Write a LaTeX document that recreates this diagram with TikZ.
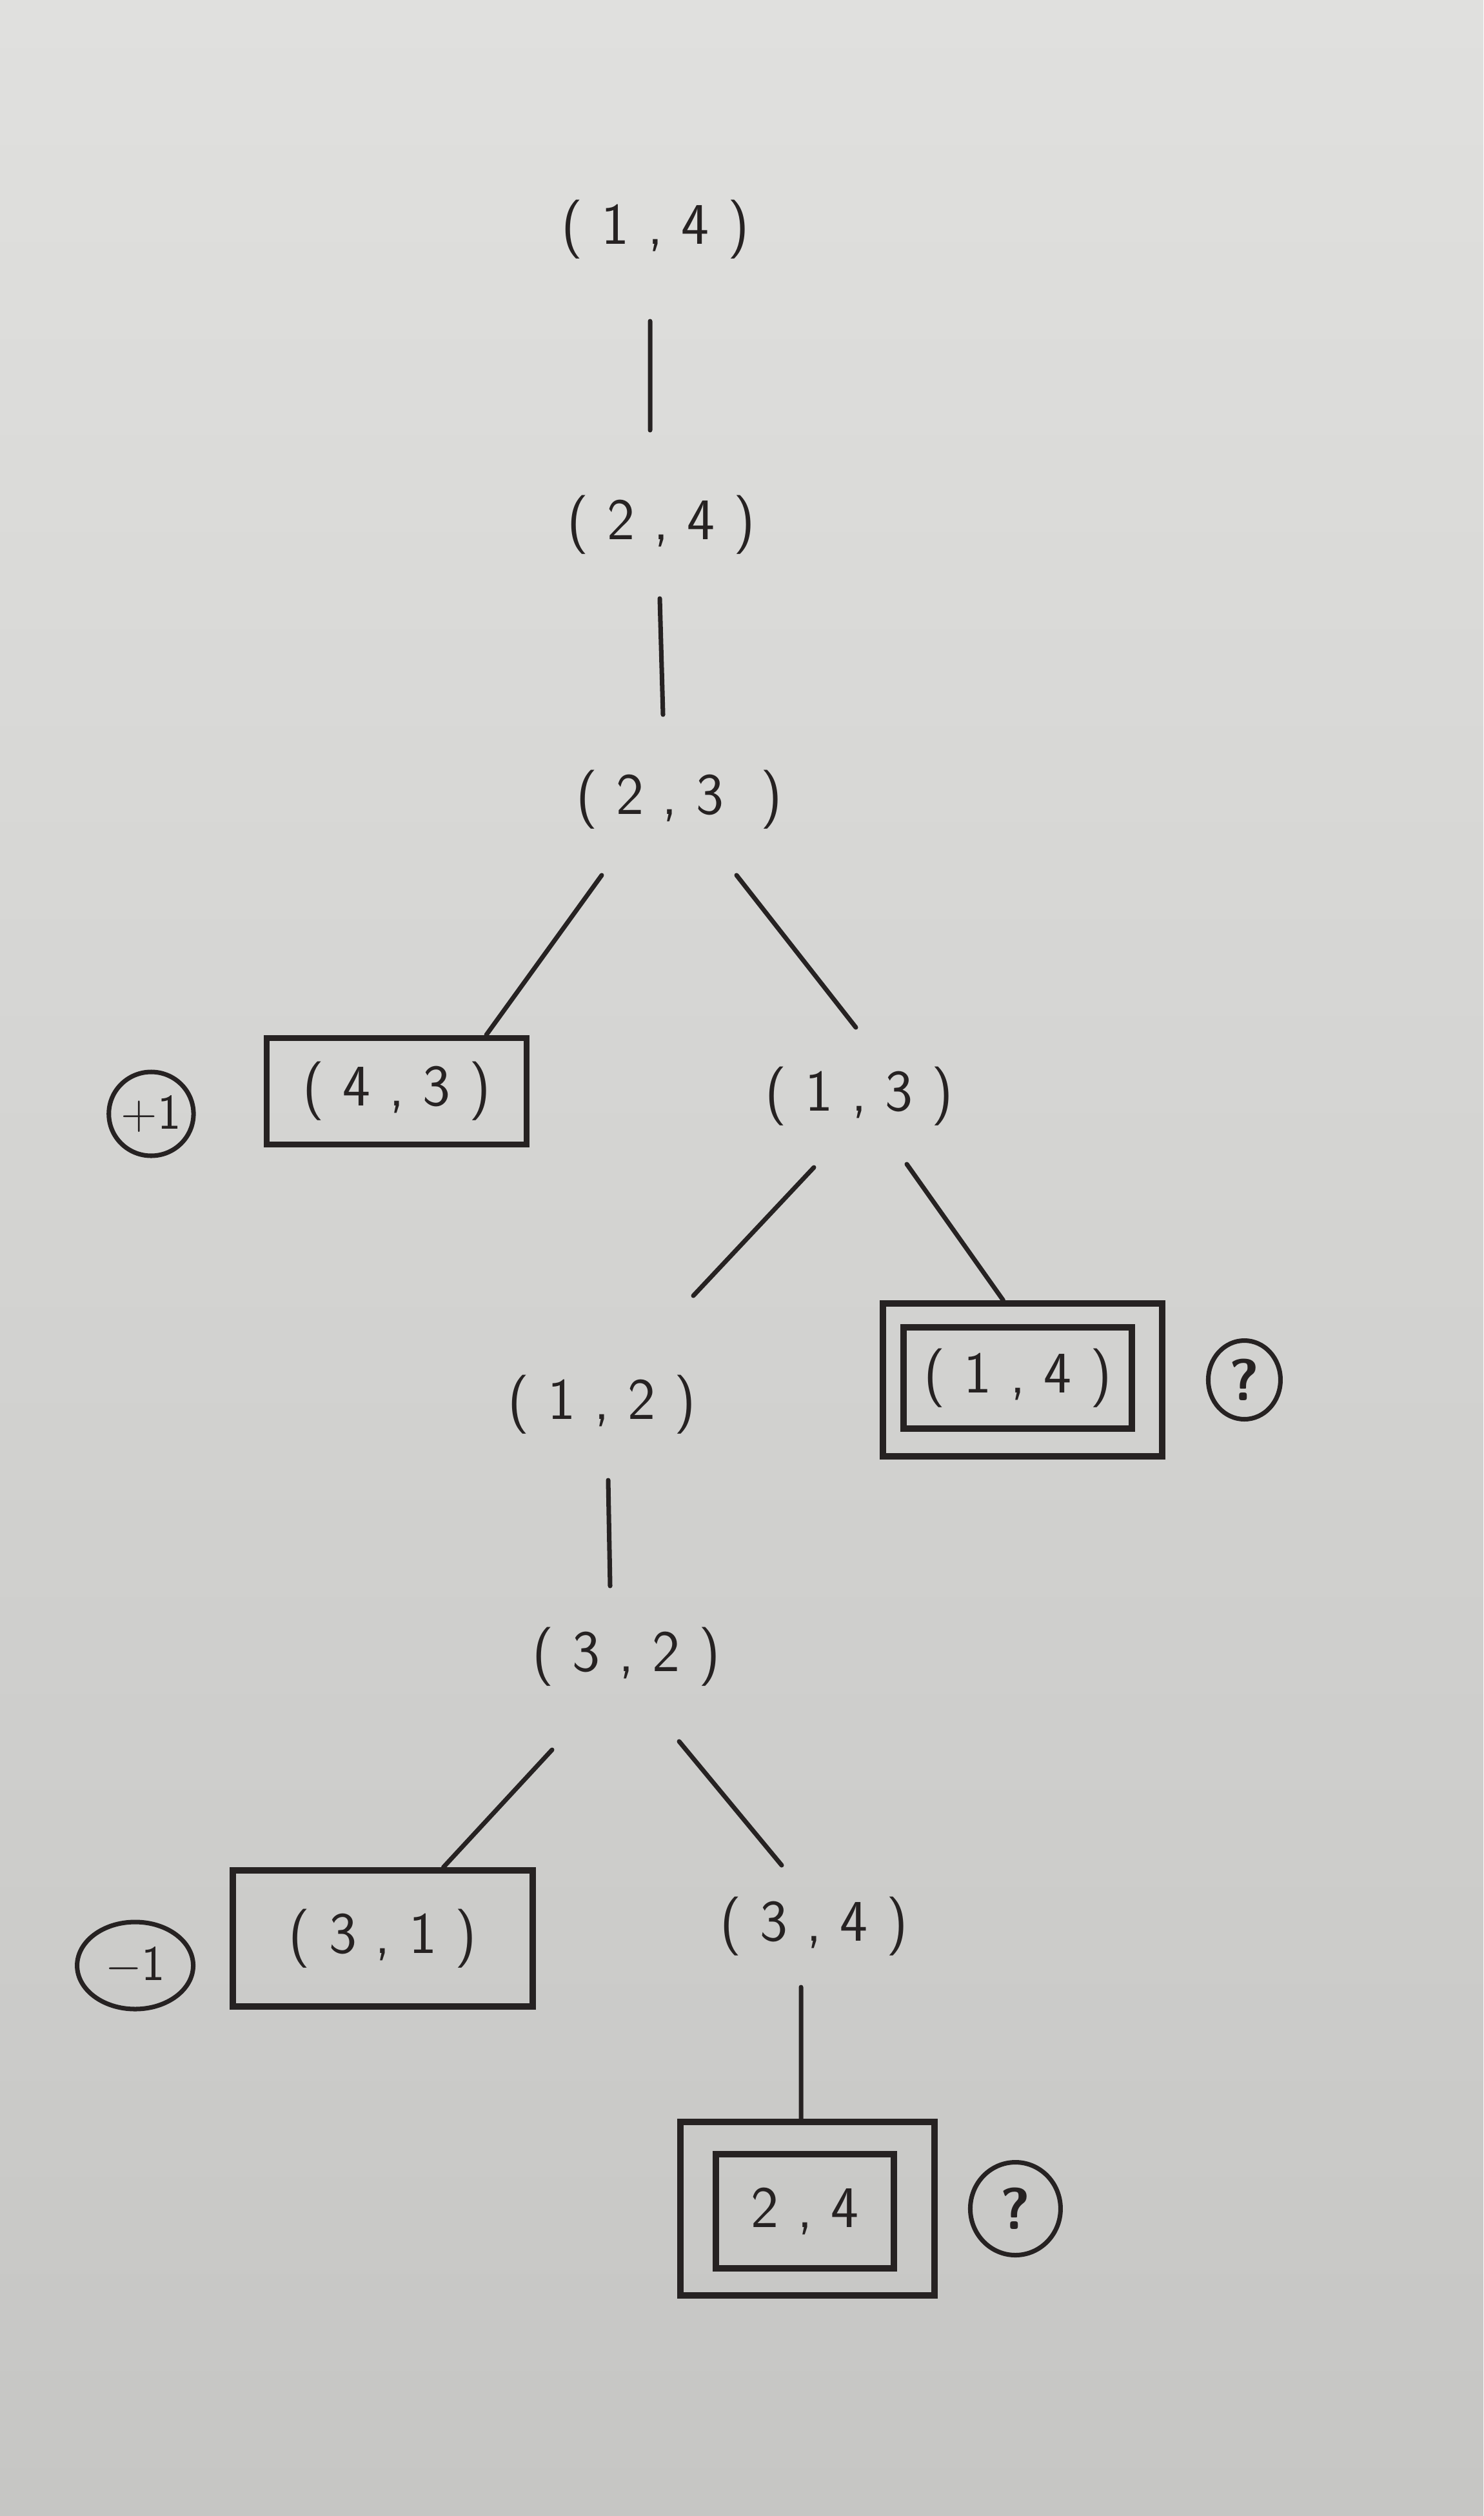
\documentclass[tikz,border=0pt]{standalone}
\usepackage{tikz}
\usetikzlibrary{positioning, shapes.geometric}
\definecolor{ink}{RGB}{38,34,34}
\definecolor{papertop}{RGB}{224,224,222}
\definecolor{paperbot}{RGB}{198,198,196}

\begin{document}
\begin{tikzpicture}[
    lbl/.style={text=ink, font=\sffamily\fontsize{26}{30}\selectfont, inner sep=0pt},
    leaf/.style={lbl, draw=ink, line width=2.8pt, minimum width=4.03cm, minimum height=1.65cm},
    frame/.style={draw=ink, line width=2.8pt, inner sep=0pt},
    tag/.style={draw=ink, text=ink, ellipse, line width=2pt, inner sep=0pt,
                font=\sffamily\bfseries\fontsize{26}{30}\selectfont},
    link/.style={draw=ink, line width=2pt, line cap=round},
  ]
  % paper
  \shade[top color=papertop, bottom color=paperbot] (0,0) rectangle (23,-39.01);
  \useasboundingbox (0,0) rectangle (23,-39.01);

  % top of the tree
  \node[lbl] (n14) at (10.16,-3.56) {( 1 , 4 )};
  \node[lbl] (n24) at (10.25,-8.14) {( 2 , 4 )};
  \node[lbl] (n23) at (10.53,-12.40) {( 2 , 3 \ )};
  % left leaf, +1
  \node[leaf] (n43) at (6.15,-16.92) {( 4 , 3 )};
  \node[tag, minimum width=1.16cm, minimum height=1.30cm, left=1.05cm of n43, yshift=-0.35cm,
        font=\sffamily\fontsize{22}{26}\selectfont] (pos) {+1};
  % right branch
  \node[lbl] (n13) at (13.32,-17.00) {( 1 , 3 )};
  \node[frame, minimum width=4.33cm, minimum height=2.37cm] (n14out) at (15.855,-21.395) {};
  \node[leaf, minimum width=3.54cm, minimum height=1.57cm] (n14in) at (15.78,-21.365) {( 1 , 4 )};
  \node[tag, minimum width=1.12cm, minimum height=1.22cm, right=0.63cm of n14out] (q1) {?};
  % lower part
  \node[lbl] (n12) at (9.33,-21.78) {( 1 , 2 )};
  \node[lbl] (n32) at (9.71,-25.69) {( 3 , 2 )};
  \node[leaf, minimum width=4.65cm, minimum height=2.11cm] (n31) at (5.935,-30.055) {( 3 , 1 )};
  \node[tag, minimum width=1.8cm, minimum height=1.35cm, left=0.53cm of n31, yshift=-0.42cm,
        font=\sffamily\fontsize{22}{26}\selectfont] (neg) {$-$1};
  \node[lbl] (n34) at (12.62,-29.87) {( 3 , 4 )};
  \node[frame, minimum width=3.94cm, minimum height=2.69cm] (n24out) at (12.52,-34.245) {};
  \node[leaf, minimum width=2.76cm, minimum height=1.77cm] (n24in) at (12.48,-34.285) {2 , 4};
  \node[tag, minimum width=1.40cm, minimum height=1.44cm, right=0.47cm of n24out] (q2) {?};

  % connectors
  \draw[link] ([shift={(-0.08,-1.42)}]n14.center) -- ([shift={(-0.17,1.47)}]n24.center);
  \draw[link] ([shift={(-0.02,-1.14)}]n24.center) -- ([shift={(-0.25,1.32)}]n23.center);
  \draw[link] ([shift={(-1.20,-1.17)}]n23.center) -- ([xshift=1.39cm]n43.north);
  \draw[link] ([shift={(0.89,-1.17)}]n23.center) -- ([shift={(-0.05,1.07)}]n13.center);
  \draw[link] ([shift={(-0.70,-1.10)}]n13.center) -- ([shift={(1.42,1.69)}]n12.center);
  \draw[link] ([shift={(0.74,-1.05)}]n13.center) -- ([xshift=-0.30cm]n14out.north);
  \draw[link] ([shift={(0.10,-1.17)}]n12.center) -- ([shift={(-0.25,1.10)}]n32.center);
  \draw[link] ([shift={(-1.15,-1.44)}]n32.center) -- ([xshift=0.94cm]n31.north);
  \draw[link] ([shift={(0.82,-1.31)}]n32.center) -- ([shift={(-0.50,0.95)}]n34.center);
  \draw[link] ([shift={(-0.20,-0.94)}]n34.center) -- ([xshift=-0.10cm]n24out.north);
\end{tikzpicture}
\end{document}
